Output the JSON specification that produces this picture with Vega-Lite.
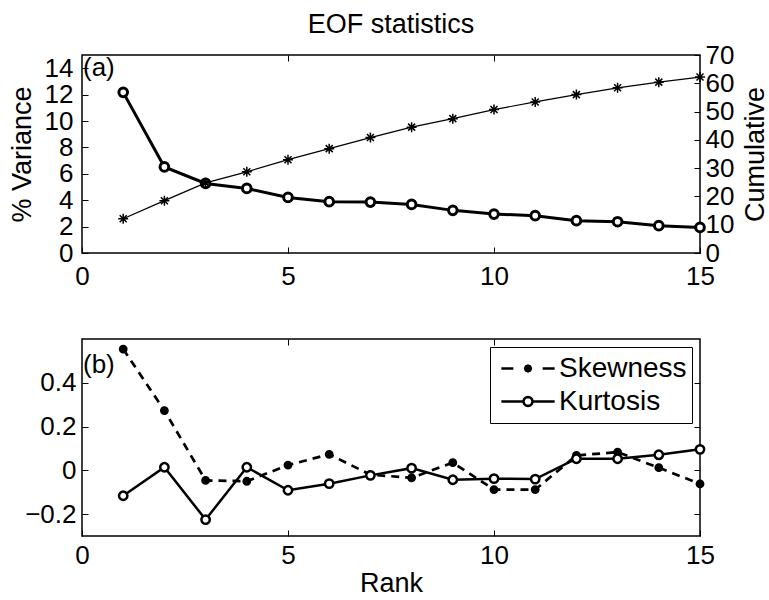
{
  "$schema": "https://vega.github.io/schema/vega-lite/v6.json",
  "background": "white",
  "padding": {"left": 7, "top": 10, "right": 2, "bottom": 2},
  "data": {
    "values": [
      {"rank": 1, "variance": 12.17, "cumulative": 12.1, "Skewness": 0.554, "Kurtosis": -0.116},
      {"rank": 2, "variance": 6.52, "cumulative": 18.5, "Skewness": 0.273, "Kurtosis": 0.014},
      {"rank": 3, "variance": 5.27, "cumulative": 24.8, "Skewness": -0.046, "Kurtosis": -0.225},
      {"rank": 4, "variance": 4.89, "cumulative": 28.7, "Skewness": -0.05, "Kurtosis": 0.014},
      {"rank": 5, "variance": 4.21, "cumulative": 33.0, "Skewness": 0.024, "Kurtosis": -0.091},
      {"rank": 6, "variance": 3.89, "cumulative": 36.9, "Skewness": 0.073, "Kurtosis": -0.061},
      {"rank": 7, "variance": 3.86, "cumulative": 40.8, "Skewness": -0.02, "Kurtosis": -0.023},
      {"rank": 8, "variance": 3.68, "cumulative": 44.5, "Skewness": -0.034, "Kurtosis": 0.01},
      {"rank": 9, "variance": 3.23, "cumulative": 47.5, "Skewness": 0.035, "Kurtosis": -0.043},
      {"rank": 10, "variance": 2.95, "cumulative": 50.7, "Skewness": -0.088, "Kurtosis": -0.038},
      {"rank": 11, "variance": 2.83, "cumulative": 53.4, "Skewness": -0.088, "Kurtosis": -0.04},
      {"rank": 12, "variance": 2.45, "cumulative": 56.0, "Skewness": 0.068, "Kurtosis": 0.053},
      {"rank": 13, "variance": 2.37, "cumulative": 58.4, "Skewness": 0.083, "Kurtosis": 0.053},
      {"rank": 14, "variance": 2.07, "cumulative": 60.4, "Skewness": 0.012, "Kurtosis": 0.071},
      {"rank": 15, "variance": 1.94, "cumulative": 62.2, "Skewness": -0.062, "Kurtosis": 0.096}
    ]
  },
  "bounds": "flush",
  "spacing": 86,
  "resolve": {"legend": {"fill": "independent", "shape": "independent"}},
  "vconcat": [
    {
      "width": 618,
      "height": 198,
      "title": {"text": "EOF statistics", "fontSize": 27, "fontWeight": "normal", "offset": 3, "anchor": "middle", "frame": "group"},
      "layer": [
        {
          "encoding": {
            "x": {"field": "rank", "type": "quantitative", "scale": {"domain": [0, 15], "nice": false},
                  "axis": {"orient": "bottom", "values": [0, 5, 10, 15], "format": "d", "title": null, "labelPadding": 16}},
            "y": {"field": "variance", "type": "quantitative", "scale": {"domain": [0, 15], "nice": false},
                  "axis": {"orient": "left", "values": [0, 2, 4, 6, 8, 10, 12, 14], "format": "d", "title": "% Variance", "labelPadding": 15, "titlePadding": 8}}
          },
          "layer": [
            {"mark": {"type": "line", "color": "black", "strokeWidth": 3}},
            {"mark": {"type": "point", "shape": "circle", "filled": true, "fill": "white", "stroke": "black", "strokeWidth": 3, "size": 75, "opacity": 1}},
            {"data": {"values": [{"label": "(a)", "rank": 0, "variance": 14}]},
             "mark": {"type": "text", "align": "left", "baseline": "middle", "fontSize": 26, "dx": 1, "color": "black"},
             "encoding": {"text": {"field": "label"}}}
          ]
        },
        {
          "encoding": {
            "x": {"field": "rank", "type": "quantitative",
                  "axis": {"orient": "top", "values": [5, 10], "labels": false, "title": null}},
            "y": {"field": "cumulative", "type": "quantitative", "scale": {"domain": [0, 70], "nice": false},
                  "axis": {"orient": "right", "values": [0, 10, 20, 30, 40, 50, 60, 70], "format": "d", "title": "Cumulative", "titleAngle": 270, "titleBaseline": "top", "labelPadding": 11, "titlePadding": 9}}
          },
          "layer": [
            {"mark": {"type": "line", "color": "black", "strokeWidth": 1.2}},
            {"mark": {"type": "point", "shape": "M-1,0L1,0M0,-1L0,1M-0.7,-0.7L0.7,0.7M-0.7,0.7L0.7,-0.7", "filled": false, "stroke": "black", "strokeWidth": 1.5, "size": 100, "opacity": 1}}
          ]
        }
      ],
      "resolve": {"scale": {"y": "independent"}, "axis": {"x": "independent"}}
    },
    {
      "width": 618,
      "height": 197,
      "layer": [
        {
          "mark": {"type": "line", "color": "black", "strokeWidth": 2.7, "strokeDash": [8, 6]},
          "encoding": {
            "x": {"field": "rank", "type": "quantitative", "scale": {"domain": [0, 15], "nice": false},
                  "axis": {"orient": "bottom", "values": [0, 5, 10, 15], "format": "d", "title": "Rank", "labelPadding": 12, "titlePadding": 2}},
            "y": {"field": "Skewness", "type": "quantitative", "scale": {"domain": [-0.3, 0.6], "nice": false, "zero": false},
                  "axis": {"orient": "left", "values": [-0.2, 0, 0.2, 0.4], "format": "~g", "title": null, "labelPadding": 12}}
          }
        },
        {
          "mark": {"type": "line", "color": "black", "strokeWidth": 2.5},
          "encoding": {
            "x": {"field": "rank", "type": "quantitative", "axis": null},
            "y": {"field": "Kurtosis", "type": "quantitative", "axis": null}
          }
        },
        {
          "mark": {"type": "point", "shape": "circle", "filled": true, "fill": "black", "stroke": "black", "strokeWidth": 2.5, "size": 40, "opacity": 1},
          "encoding": {
            "x": {"field": "rank", "type": "quantitative", "axis": null},
            "y": {"field": "Skewness", "type": "quantitative", "axis": null}
          }
        },
        {
          "mark": {"type": "point", "shape": "circle", "filled": true, "fill": "white", "stroke": "black", "strokeWidth": 2.5, "size": 70, "opacity": 1},
          "encoding": {
            "x": {"field": "rank", "type": "quantitative",
                  "axis": {"orient": "top", "values": [5, 10], "labels": false, "title": null}},
            "y": {"field": "Kurtosis", "type": "quantitative",
                  "axis": {"orient": "right", "values": [-0.2, 0, 0.2, 0.4], "labels": false, "title": null}}
          }
        },
        {
          "transform": [{"fold": ["Skewness", "Kurtosis"], "as": ["series", "value"]}, {"filter": "datum.rank === 1"}],
          "mark": {"type": "point", "filled": true, "opacity": 0, "size": 2840, "stroke": "black", "strokeWidth": 2.5},
          "encoding": {
            "x": {"field": "rank", "type": "quantitative", "axis": null},
            "y": {"field": "value", "type": "quantitative", "axis": null},
            "shape": {"field": "series", "type": "nominal",
                      "scale": {"domain": ["Skewness", "Kurtosis"],
                                "range": ["M-1,0L-0.55,0M0.55,0L1,0M0.11,0L0.078,0.078L0,0.11L-0.078,0.078L-0.11,0L-0.078,-0.078L0,-0.11L0.078,-0.078Z",
                                          "M-1,0L-0.17,0M0.17,0L1,0M0.17,0L0.147,0.085L0.085,0.147L0,0.17L-0.085,0.147L-0.147,0.085L-0.17,0L-0.147,-0.085L-0.085,-0.147L0,-0.17L0.085,-0.147L0.147,-0.085Z"]},
                      "legend": {"title": null, "encode": {"symbols": {"update": {"stroke": {"value": "black"}, "strokeWidth": {"value": 2.5}, "strokeOpacity": {"value": 1}}}}}},
            "fill": {"field": "series", "type": "nominal", "scale": {"domain": ["Skewness", "Kurtosis"], "range": ["black", "white"]},
                     "legend": {"title": null, "encode": {"symbols": {"update": {"stroke": {"value": "black"}, "strokeWidth": {"value": 2.5}, "strokeOpacity": {"value": 1}}}}}}
          }
        },
        {
          "data": {"values": [{"label": "(b)", "rank": 0, "value": 0.48}]},
          "mark": {"type": "text", "align": "left", "baseline": "middle", "fontSize": 26, "dx": 1, "color": "black"},
          "encoding": {
            "x": {"field": "rank", "type": "quantitative", "axis": null},
            "y": {"field": "value", "type": "quantitative", "axis": null},
            "text": {"field": "label"}
          }
        }
      ],
      "resolve": {"axis": {"x": "independent", "y": "independent"}}
    }
  ],
  "config": {
    "font": "Liberation Sans",
    "view": {"stroke": "black", "strokeWidth": 1.5},
    "title": {"color": "black", "font": "Liberation Sans"},
    "axis": {
      "grid": false, "domain": false, "tickSize": -6, "tickColor": "black", "tickWidth": 1,
      "labelColor": "black", "labelFontSize": 26, "labelFont": "Liberation Sans",
      "titleFontSize": 27, "titleFontWeight": "normal", "titleColor": "black", "titleFont": "Liberation Sans",
      "labelFlush": false, "labelOverlap": false
    },
    "legend": {
      "orient": "top-right", "offset": 8,
      "strokeColor": "black", "fillColor": "white", "padding": 5,
      "labelFontSize": 28, "labelColor": "black", "labelFont": "Liberation Sans",
      "symbolSize": 2840, "clipHeight": 33, "rowPadding": 0, "labelOffset": 3, "symbolOffset": 5,
      "symbolStrokeColor": "black", "symbolStrokeWidth": 2.5, "symbolOpacity": 1
    }
  }
}
